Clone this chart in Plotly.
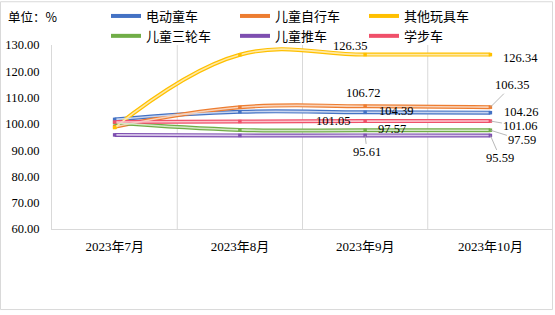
import plotly.graph_objects as go

# Monthly price index by product type (%)
months = ["2023年7月", "2023年8月", "2023年9月", "2023年10月"]
series_names = ["电动童车", "儿童自行车", "其他玩具车", "儿童三轮车", "儿童推车", "学步车"]

electric = [101.7, 104.6, 104.39, 104.26]
bicycle = [98.9, 106.3, 106.72, 106.35]
other_toy = [98.6, 126.3, 126.35, 126.34]
tricycle = [100.4, 97.7, 97.57, 97.59]
stroller = [95.8, 95.6, 95.61, 95.59]
walker = [100.7, 100.9, 101.05, 101.06]

values = [electric, bicycle, other_toy, tricycle, stroller, walker]
colors = ["#4472C4", "#ED7D31", "#FFC000", "#70AD47", "#7E4FB0", "#F0506A"]
light = ["#C8D5EF", "#F9D2B8", "#FFE9A6", "#D3E7C6", "#D8C8EA", "#FBC3CC"]

W, H = 555, 315
L, R, T, B = 52, 2, 44, 86
PW, PH = W - L - R, H - T - B
SMOOTH = 1.15


def px(xp):
    return (xp - L) / PW


def py(yp):
    return (H - B - yp) / PH


xs = list(range(len(months)))
fig = go.Figure()

for name, vals, c in zip(series_names, values, colors):
    # outer band (also used as the legend swatch)
    fig.add_trace(go.Scatter(
        x=xs, y=vals, name=name, mode="lines",
        line=dict(color=c, width=4, shape="spline", smoothing=SMOOTH),
        hoverinfo="skip",
    ))
for name, vals, c, lc in zip(series_names, values, colors, light):
    # light core giving the double-line look, with point markers
    fig.add_trace(go.Scatter(
        x=xs, y=vals, name=name, mode="lines+markers", showlegend=False,
        line=dict(color=lc, width=1.6, shape="spline", smoothing=SMOOTH),
        marker=dict(symbol="square", size=3.5, color=c),
    ))

label_font = dict(family="Liberation Serif, Times New Roman, serif", size=12.5, color="#000000")

# Data labels for September: (series index, x-shift, y-shift, leader offset)
sep_labels = [
    (2, -15, 9, None),
    (1, -2, 13, None),
    (0, 31, 1, None),
    (5, -32, 0, None),
    (3, 27, 1, None),
    (4, 2, -17, (2, 17)),
]
# Data labels for October
oct_labels = [
    (2, 30, -3, None),
    (1, 22, 22, (22, -22)),
    (0, 31, 1, None),
    (5, 30, -5, (30, 5)),
    (3, 32, -10, (32, 10)),
    (4, 10, -23, (10, 23)),
]

for col, labels in ((2, sep_labels), (3, oct_labels)):
    for idx, dx, dy, leader in labels:
        v = values[idx][col]
        if leader is None:
            fig.add_annotation(x=col, y=v, text=f"{v:.2f}", showarrow=False,
                               xshift=dx, yshift=dy, font=label_font)
        else:
            fig.add_annotation(x=col, y=v, text=f"{v:.2f}", showarrow=True,
                               ax=leader[0], ay=leader[1], arrowhead=0,
                               arrowwidth=0.8, arrowcolor="#A6A6A6", standoff=0,
                               startstandoff=0, font=label_font)

# unit note
fig.add_annotation(xref="paper", yref="paper", x=px(6), y=py(15), xanchor="left",
                   yanchor="middle", showarrow=False, text="单位：%",
                   font=dict(family="Noto Sans CJK SC", size=12.5, color="#000000"))

# vertical gridlines between categories
for b in [0.5, 1.5, 2.5]:
    fig.add_shape(type="line", xref="x", yref="paper", x0=b, x1=b, y0=0, y1=1,
                  line=dict(color="#D9D9D9", width=1), layer="below")

# outer chart border
fig.add_shape(type="rect", xref="paper", yref="paper",
              x0=px(0.5), x1=px(552.5), y0=py(0.5), y1=py(310),
              line=dict(color="#D9D9D9", width=1), fillcolor="rgba(0,0,0,0)")

fig.update_layout(
    width=W, height=H,
    margin=dict(l=L, r=R, t=T, b=B),
    paper_bgcolor="white", plot_bgcolor="white",
    showlegend=True,
    legend=dict(orientation="h", x=px(106), y=py(1), xanchor="left", yanchor="top",
                entrywidth=84, entrywidthmode="pixels", traceorder="normal",
                font=dict(family="Noto Sans CJK SC", size=13, color="#000000"),
                bgcolor="rgba(0,0,0,0)", itemwidth=30),
    xaxis=dict(range=[-0.5, 3.5], tickvals=xs, ticktext=months, showgrid=False,
               zeroline=False, showline=True, linecolor="#D9D9D9", linewidth=1,
               ticks="", ticklabelstandoff=5,
               tickfont=dict(family="Liberation Serif, Noto Sans CJK SC", size=13, color="#000000"),
               fixedrange=True),
    yaxis=dict(range=[60, 130], dtick=10, tickformat=".2f", showgrid=False,
               zeroline=False, showline=True, linecolor="#D9D9D9", linewidth=1,
               ticks="", ticklabelstandoff=9,
               tickfont=dict(family="Liberation Serif, Times New Roman, serif", size=12.5, color="#000000"),
               fixedrange=True),
    hovermode=False,
)

fig.write_html("out.html")
